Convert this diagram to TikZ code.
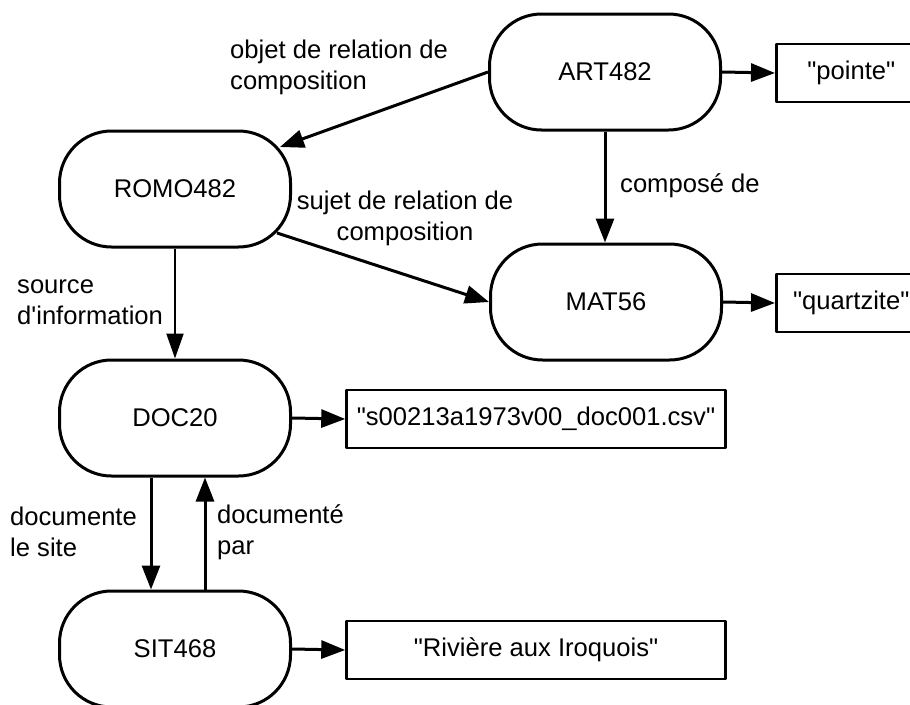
\documentclass[tikz,border=0pt]{standalone}
\usepackage{fontspec}
\setmainfont{Liberation Sans}[Ligatures=TeXOff]
\usetikzlibrary{arrows.meta, calc}

\begin{document}
\begin{tikzpicture}[
    x=1pt, y=-1pt,
    line cap=butt,
    line join=round,
    every node/.style={font=\fontsize{25.6}{31}\selectfont},
    entity/.style={draw, line width=3pt, rounded corners=52pt,
        minimum width=231pt, minimum height=116pt},
    literal/.style={draw, line width=2.5pt, minimum height=58pt,
        inner xsep=10pt},
    lbl/.style={inner sep=0pt, align=left},
    rel/.style={-{Triangle[length=24pt,width=18pt]}, line width=3pt},
    relthin/.style={-{Triangle[length=25pt,width=17pt]}, line width=2pt},
]

% ── Frame (pixel coordinates, y downwards) ──────────────────────────────────
\clip (0,0) rectangle (910,704);

% ── Entities ────────────────────────────────────────────────────────────────
\node[entity] (art)  at (605, 72)  {ART482};
\node[entity] (romo) at (175,189)  {ROMO482};
\node[entity] (mat)  at (606,302)  {MAT56};
\node[entity] (doc)  at (175,418)  {DOC20};
\node[entity] (sit)  at (175,649)  {SIT468};

% ── Literal values ──────────────────────────────────────────────────────────
\node[literal, anchor=west, minimum width=150pt] (pointe) at (775, 73)
    {"pointe"};
\node[literal, anchor=west, minimum width=150pt] (quartz) at (775,303)
    {"quartzite"};
\node[literal, minimum width=379pt] (csv)    at (536,419)
    {"s00213a1973v00\_doc001.csv"};
\node[literal, minimum width=379pt] (riv)    at (536,650)
    {"Rivière aux Iroquois"};

% ── Composition relations ───────────────────────────────────────────────────
\draw[rel] (art.west) -- ($(romo.center)+(105,-42)$);
\node[lbl, anchor=west] (objlbl) at (230, 67)
    {objet de relation de\\composition};

\draw[rel] (art.south) -- (art.south |- mat.north);
\node[lbl, anchor=west] (complbl) at (620,186) {composé de};

\draw[rel] ($(romo.center)+(102,44)$) -- (mat.west);
\node[lbl, align=center] (sujlbl) at (405,218)
    {sujet de relation de\\composition};

% ── Documentation relations ─────────────────────────────────────────────────
\draw[relthin] (romo.south) -- (doc.north);
\node[lbl, anchor=west] (srclbl) at (17,302) {source\\d'information};

% DOC20 <-> SIT468, two parallel arrows
\draw[rel] ([xshift=-24pt]doc.south) -- ([xshift=-24pt]sit.north);
\node[lbl, anchor=west] (docslbl) at (10,532) {documente\\le site};
\draw[rel] ([xshift=30pt]sit.north) -- ([xshift=30pt]doc.south);
\node[lbl, anchor=west] (parlbl) at (217,532) {documenté\\par};

% ── Attribute values ────────────────────────────────────────────────────────
\draw[rel] (art.east)  -- (pointe.west);
\draw[rel] (mat.east)  -- (quartz.west);
\draw[rel] (doc.east)  -- (csv.west);
\draw[rel] (sit.east)  -- (riv.west);

\end{tikzpicture}
\end{document}
